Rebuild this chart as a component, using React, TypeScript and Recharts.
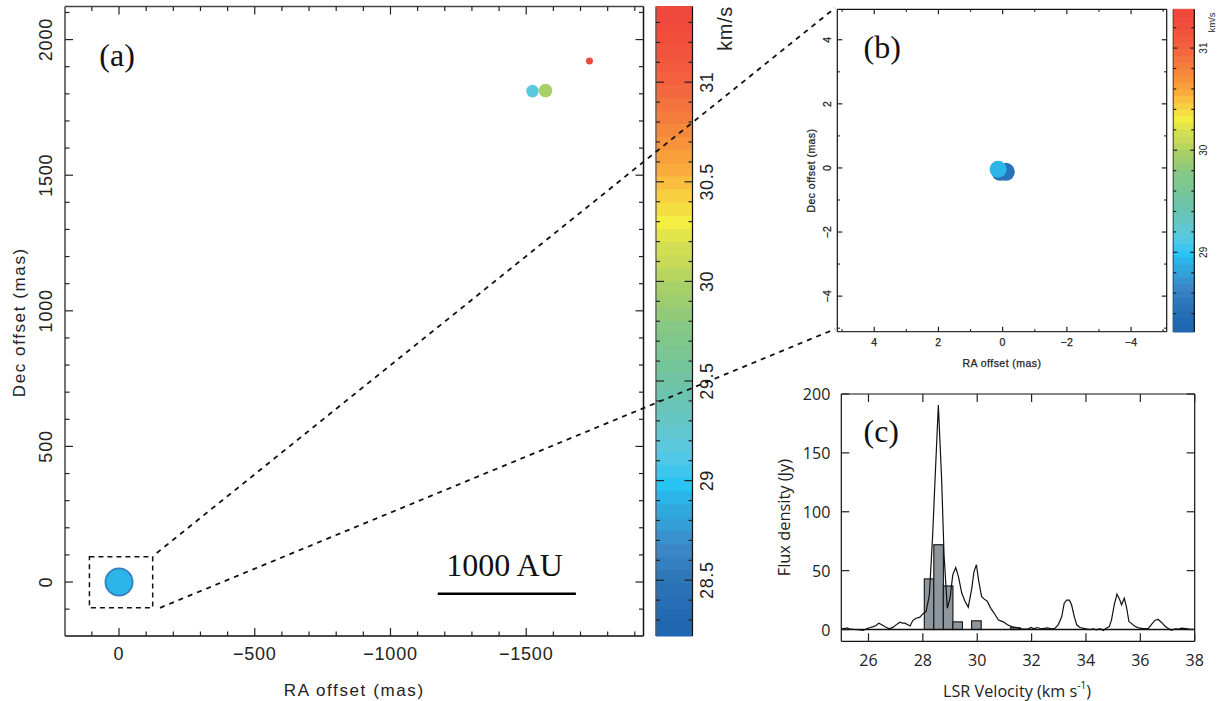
import React from 'react';
import {
  ScatterChart, Scatter, ComposedChart, Bar, Line, XAxis, YAxis, ZAxis, Cell, Label,
  ReferenceLine, ReferenceArea, ReferenceDot,
} from 'recharts';

// panel (a): maser spots, offsets in mas
const aRa = [0, 0, -1523, -1571, -1733];
const aDec = [0, 0, 1810, 1812, 1921];
const aVel = [28.55, 28.93, 29.2, 29.97, 31.3];
const aFlux = [72, 55, 13.6, 15.8, 4.2];
const aXTicks = [-1900, -1800, -1700, -1600, -1500, -1400, -1300, -1200, -1100, -1000, -900, -800, -700, -600, -500, -400, -300, -200, -100, 0, 100];
const aYTicks = [-100, 0, 100, 200, 300, 400, 500, 600, 700, 800, 900, 1000, 1100, 1200, 1300, 1400, 1500, 1600, 1700, 1800, 1900, 2000, 2100];
const aXMajor = [-1500, -1000, -500, 0];
const aYMajor = [0, 500, 1000, 1500, 2000];

// panel (b): zoom on the central spots
const bRa = [-0.1, 0.07, 0.14];
const bDec = [-0.12, -0.12, -0.04];
const bVel = [28.42, 28.42, 28.93];
const bFlux = [72, 72, 64];
const bXTicks = [-5, -4, -3, -2, -1, 0, 1, 2, 3, 4, 5];
const bYTicks = [-5, -4, -3, -2, -1, 0, 1, 2, 3, 4];
const bMajor = [-4, -2, 0, 2, 4];

// panel (c): spectrum and the channels with detected spots
const specV = [25.01, 25.14, 25.22, 25.32, 25.5, 25.69, 25.81, 25.93, 26.06, 26.18, 26.28, 26.38, 26.49, 26.61, 26.77, 26.91, 27.06, 27.16, 27.25, 27.34, 27.53, 27.63, 27.75, 27.89, 27.99, 28.12, 28.24, 28.36, 28.45, 28.57, 28.69, 28.78, 28.9, 29.0, 29.1, 29.21, 29.31, 29.43, 29.55, 29.67, 29.8, 29.88, 29.97, 30.05, 30.16, 30.25, 30.37, 30.5, 30.62, 30.78, 30.96, 31.11, 31.27, 31.45, 31.64, 31.76, 31.88, 31.98, 32.09, 32.19, 32.31, 32.43, 32.58, 32.74, 32.86, 32.98, 33.11, 33.2, 33.29, 33.39, 33.47, 33.57, 33.66, 33.78, 33.96, 34.15, 34.27, 34.39, 34.52, 34.64, 34.74, 34.86, 34.94, 35.04, 35.14, 35.23, 35.31, 35.41, 35.5, 35.58, 35.68, 35.8, 35.93, 36.11, 36.29, 36.42, 36.54, 36.66, 36.78, 36.91, 37.03, 37.15, 37.27, 37.4, 37.52, 37.68, 37.8, 38];
const specFlux = [0.6, 0.9, 1.4, 0.3, 0, -0.3, -0.8, 0.6, 1.7, 2.5, 3.4, 5.4, 4, 2.3, 0.6, 2, 4.8, 6.2, 5.4, 5.4, 3, 7.6, 9.6, 10.5, 13, 15.3, 29.4, 80, 128, 190.7, 128, 63, 18, 26.6, 46.4, 52.6, 45, 31, 24, 19, 35, 49, 55, 42, 28, 26, 24, 18, 14, 8, 6.5, 4, 2.5, 1.7, 0.6, 0.3, 0.6, 1.7, 0.6, 1.7, 1.1, 0.8, 1.4, 0.6, 1.1, 4, 11, 22.4, 25, 24.9, 21, 11, 4, 1.7, 0.8, 0, 0.6, -0.3, 0.8, -0.8, 1.1, 2.5, 8.2, 21, 30, 26, 21, 26.6, 18, 6.8, 5, 2.8, 1.4, 0.8, 0.8, 4.5, 7.9, 8.5, 6, 2.8, 0.8, -0.6, 0.6, 0.3, 1.1, 0.8, 0.3, 0];
const chanV = [28.23, 28.58, 28.93, 29.28, 29.97, 31.4];
const chanFlux = [43, 72, 37, 6.5, 7.4, 1.5];
const cXTicks = [26, 28, 30, 32, 34, 36, 38];
const cYTicks = [0, 50, 100, 150, 200];

// colour bar, top to bottom
const barTop = 31.38;
const barBottom = 28.22;
const barColors = [
  '#f0483c', '#f04a3c', '#f14e3c', '#f1533c', '#f2593d', '#f2603d', '#f3683e', '#f4723d',
  '#f57d3c', '#f6883b', '#f7933a', '#f99f3b', '#faab3d', '#fabf3f', '#f7cf40', '#f5de41',
  '#f4ee42', '#e3e54b', '#d2de53', '#c8da58', '#b8d560', '#a8d068', '#9ecd70', '#92ca7a',
  '#86c885', '#80c78c', '#7bc693', '#75c59b', '#70c4a5', '#6cc4ae', '#69c5b8', '#66c6c4',
  '#61c7d0', '#5bc8dc', '#50c8e6', '#3ec6ee', '#27c4f4', '#2cb5e8', '#30a8de', '#33a0d8',
  '#3892ce', '#3a86c6', '#3480c0', '#2e78ba', '#2a72b8', '#266eb5', '#226ab2', '#1f67b0',
];
const cbAMinor = [28.3, 28.4, 28.5, 28.6, 28.7, 28.8, 28.9, 29, 29.1, 29.2, 29.3, 29.4, 29.5, 29.6, 29.7, 29.8, 29.9, 30, 30.1, 30.2, 30.3, 30.4, 30.5, 30.6, 30.7, 30.8, 30.9, 31, 31.1, 31.2, 31.3];
const cbAMajor = [28.5, 29, 29.5, 30, 30.5, 31];
const cbBMinor = [28.4, 28.6, 28.8, 29, 29.2, 29.4, 29.6, 29.8, 30, 30.2, 30.4, 30.6, 30.8, 31, 31.2];
const cbBMajor = [29, 30, 31];
const cbRows = [{ v: 0 }, { v: 1 }];

const W = 1217;
const H = 701;
const SANS = '"Liberation Sans", sans-serif';
const SERIF = '"Liberation Serif", serif';
const OPEN = '"Open Sans", sans-serif';
const CHAN_PX = 9.6;

const step = (barTop - barBottom) / barColors.length;
const colorFor = (v: number) => barColors[Math.floor((barTop - v) / step)];
const spots = (ra: number[], dec: number[], vel: number[], flux: number[]) =>
  ra.map((r, i) => ({ ra: r, dec: dec[i], vel: vel[i], flux: flux[i] }));
// axes take 1px each (a 0 size axis is not drawn), so the margins give that back
const margin = (x0: number, y0: number, x1: number, y1: number) => ({ left: x0 - 1, top: y0 - 1, right: W - x1 - 1, bottom: H - y1 - 1 });
const fmt = (v: number) => String(v).replace('-', '\u2212');

const aData = spots(aRa, aDec, aVel, aFlux);
const bData = spots(bRa, bDec, bVel, bFlux);
const cData = [
  ...specV.map((v, i) => ({ v, flux: specFlux[i] })),
  ...chanV.map((v, i) => ({ v, chan: chanFlux[i] })),
].sort((p, q) => p.v - q.v);

type TickOpts = {
  side: 'left' | 'right' | 'top' | 'bottom';
  majors: number[];
  majorLen: number;
  minorLen: number;
  stroke?: string;
  width?: number;
  gap?: number; // distance from axis to label centre, no label when missing
  font?: string;
  size?: number;
  rotate?: boolean;
  spacing?: number;
  textStroke?: number;
};

// inward ticks, the axis hands us the position
const inTick = (o: TickOpts) => (p: any) => {
  const { x, y, payload } = p;
  const v = payload.value;
  const isMajor = o.majors.includes(v);
  const len = isMajor ? o.majorLen : o.minorLen;
  const dx = o.side === 'left' ? len : o.side === 'right' ? -len : 0;
  const dy = o.side === 'top' ? len : o.side === 'bottom' ? -len : 0;
  let text = null;
  if (o.gap !== undefined && isMajor) {
    const lx = o.side === 'left' ? x - o.gap : o.side === 'right' ? x + o.gap : x;
    const ly = o.side === 'bottom' ? y + o.gap : o.side === 'top' ? y - o.gap : y;
    const anchor = o.rotate || o.side === 'bottom' ? 'middle' : 'end';
    text = (
      <text
        x={lx} y={ly} textAnchor={anchor} dominantBaseline="central"
        transform={o.rotate ? `rotate(-90 ${lx} ${ly})` : undefined}
        fontFamily={o.font} fontSize={o.size} fill="#222" letterSpacing={o.spacing}
        stroke={o.textStroke ? '#222' : 'none'} strokeWidth={o.textStroke}
      >
        {fmt(v)}
      </text>
    );
  }
  return (
    <g>
      <line x1={x} y1={y} x2={x + dx} y2={y + dy} stroke={o.stroke || '#222'} strokeWidth={o.width || 1.2} />
      {text}
    </g>
  );
};

type TitleOpts = { off: number; size: number; font: string; spacing?: number; rotate?: boolean; shift?: number; textStroke?: number };

const axisTitle = (body: React.ReactNode, o: TitleOpts) => (p: any) => {
  const { x, y, width, height } = p.viewBox;
  const tx = o.rotate ? x - o.off : x + width / 2 + (o.shift || 0);
  const ty = o.rotate ? y + height / 2 + (o.shift || 0) : y + height + o.off;
  return (
    <text
      x={tx} y={ty} textAnchor="middle" dominantBaseline="central"
      transform={o.rotate ? `rotate(-90 ${tx} ${ty})` : undefined}
      fontFamily={o.font} fontSize={o.size} fill="#222" letterSpacing={o.spacing}
      stroke={o.textStroke ? '#222' : 'none'} strokeWidth={o.textStroke}
    >
      {body}
    </text>
  );
};

const Layer: React.FC<{ children: React.ReactNode }> = ({ children }) => (
  <div style={{ position: 'absolute', left: 0, top: 0, width: W, height: H }}>{children}</div>
);

const panelLetter = (value: string) => ({
  value,
  position: 'center' as const,
  fill: '#111',
  style: { fontFamily: SERIF, fontSize: 32 },
});

// channel bars keep the width of one velocity channel, the dense x data would squeeze them
const ChannelBar = (p: any) => {
  if (p.chan === undefined || p.chan === null) return null;
  return <rect x={p.x + p.width / 2 - CHAN_PX / 2} y={p.y} width={CHAN_PX} height={p.height} fill="#8e969e" stroke="#111" strokeWidth={1.1} />;
};

const ColorBar: React.FC<{
  box: [number, number, number, number];
  ticks: number[];
  majors: number[];
  majorLen: number;
  minorLen: number;
  gap: number;
  size: number;
  spacing?: number;
  titleGap: number;
  titleSize: number;
  titleShift: number;
}> = ({ box, ticks, majors, majorLen, minorLen, gap, size, spacing, titleGap, titleSize, titleShift }) => (
  <ComposedChart width={W} height={H} margin={{ left: box[0] - 1, top: box[1], right: W - box[2] - 1, bottom: H - box[3] }} data={cbRows}>
    <XAxis type="number" dataKey="v" domain={[0, 1]} allowDataOverflow hide />
    <YAxis
      yAxisId="l" type="number" domain={[barBottom, barTop]} allowDataOverflow width={1} ticks={ticks} interval={0}
      tickSize={0} tickMargin={0} tickLine={false} axisLine={{ stroke: '#555', strokeWidth: 1.2 }}
      tick={inTick({ side: 'left', majors, majorLen, minorLen })}
    />
    <YAxis
      yAxisId="r" orientation="right" type="number" domain={[barBottom, barTop]} allowDataOverflow width={1} ticks={ticks} interval={0}
      tickSize={0} tickMargin={0} tickLine={false} axisLine={{ stroke: '#111', strokeWidth: 1.2 }}
      tick={inTick({ side: 'right', majors, majorLen, minorLen, gap, font: SANS, size, rotate: true, spacing })}
    />
    {barColors.map((c, i) => (
      <ReferenceArea
        key={c + i} yAxisId="l" x1={0} x2={1} y1={barTop - (i + 1) * step} y2={barTop - i * step}
        fill={c} fillOpacity={1} stroke={c} strokeWidth={1} ifOverflow="visible"
      />
    ))}
    <ReferenceDot
      yAxisId="l" x={1} y={barTop - titleShift} r={0} stroke="none" fill="none" ifOverflow="visible"
      label={(p: any) => {
        const tx = p.viewBox.x + titleGap;
        const ty = p.viewBox.y;
        return (
          <text x={tx} y={ty} textAnchor="middle" dominantBaseline="central" transform={`rotate(-90 ${tx} ${ty})`}
            fontFamily={SANS} fontSize={titleSize} fill="#222" letterSpacing={spacing}>
            km/s
          </text>
        );
      }}
    />
  </ComposedChart>
);

const PanelA = () => (
  <ScatterChart width={W} height={H} margin={margin(65, 6.5, 643.5, 636)}>
    <XAxis
      type="number" dataKey="ra" domain={[-1932, 199]} allowDataOverflow reversed height={1} ticks={aXTicks} interval={0}
      tickSize={0} tickMargin={0} tickLine={false} axisLine={{ stroke: '#111', strokeWidth: 1.5 }}
      tick={inTick({ side: 'bottom', majors: aXMajor, majorLen: 8, minorLen: 4.5, gap: 18, font: SANS, size: 18, spacing: 0.8 })}
    >
      <Label content={axisTitle('RA offset (mas)', { off: 53, size: 17, font: SANS, spacing: 1.6 })} />
    </XAxis>
    <XAxis
      xAxisId="t" orientation="top" type="number" dataKey="ra" domain={[-1932, 199]} allowDataOverflow reversed height={1} ticks={aXTicks} interval={0}
      tickSize={0} tickMargin={0} tickLine={false} axisLine={{ stroke: '#444', strokeWidth: 1.5 }}
      tick={inTick({ side: 'top', majors: aXMajor, majorLen: 8, minorLen: 4.5 })}
    />
    <YAxis
      type="number" dataKey="dec" domain={[-199, 2122]} allowDataOverflow width={1} ticks={aYTicks} interval={0}
      tickSize={0} tickMargin={0} tickLine={false} axisLine={{ stroke: '#444', strokeWidth: 1.5 }}
      tick={inTick({ side: 'left', majors: aYMajor, majorLen: 8, minorLen: 4.5, gap: 18.5, font: SANS, size: 18, rotate: true, spacing: 0.8 })}
    >
      <Label content={axisTitle('Dec offset (mas)', { off: 45, size: 17, font: SANS, spacing: 1.6, rotate: true, shift: 1 })} />
    </YAxis>
    <YAxis
      yAxisId="r" orientation="right" type="number" dataKey="dec" domain={[-199, 2122]} allowDataOverflow width={1} ticks={aYTicks} interval={0}
      tickSize={0} tickMargin={0} tickLine={false} axisLine={{ stroke: '#111', strokeWidth: 1.5 }}
      tick={inTick({ side: 'right', majors: aYMajor, majorLen: 8, minorLen: 4.5 })}
    />
    <ZAxis type="number" dataKey="flux" domain={[0, 72]} range={[0, 660]} />
    <Scatter data={aData} isAnimationActive={false}>
      {aData.map((s, i) => <Cell key={i} fill={colorFor(s.vel)} />)}
    </Scatter>
    {/* zoom box and the lines out to panel (b), in panel (a) units */}
    <ReferenceArea x1={-124} x2={109} y1={-95} y2={93} fill="none" stroke="#111" strokeWidth={1.5} strokeDasharray="5 4" ifOverflow="visible" />
    <ReferenceLine segment={[{ x: -139, y: 107 }, { x: -2638, y: 2117 }]} stroke="#111" strokeWidth={1.8} strokeDasharray="5 5" ifOverflow="visible" />
    <ReferenceLine segment={[{ x: -151, y: -95 }, { x: -2638, y: 933 }]} stroke="#111" strokeWidth={1.8} strokeDasharray="5 5" ifOverflow="visible" />
    <ReferenceLine segment={[{ x: -1174, y: -43 }, { x: -1683, y: -43 }]} stroke="#000" strokeWidth={2.4} ifOverflow="visible" />
    <ReferenceDot x={-1420} y={63} r={0} stroke="none" fill="none" label={panelLetter('1000 AU')} />
    <ReferenceDot x={7} y={1943} r={0} stroke="none" fill="none" label={panelLetter('(a)')} />
  </ScatterChart>
);

const PanelB = () => (
  <ScatterChart width={W} height={H} margin={margin(837.3, 9.3, 1166.7, 331.7)}>
    <XAxis
      type="number" dataKey="ra" domain={[-5.11, 5.15]} allowDataOverflow reversed height={1} ticks={bXTicks} interval={0}
      tickSize={0} tickMargin={0} tickLine={false} axisLine={{ stroke: '#333', strokeWidth: 1.3 }}
      tick={inTick({ side: 'bottom', majors: bMajor, majorLen: 5, minorLen: 2.5, gap: 10, font: SANS, size: 10.5, spacing: 0.3, textStroke: 0.25 })}
    >
      <Label content={axisTitle('RA offset (mas)', { off: 30, size: 10.5, font: SANS, spacing: 0.45, textStroke: 0.25 })} />
    </XAxis>
    <XAxis
      xAxisId="t" orientation="top" type="number" dataKey="ra" domain={[-5.11, 5.15]} allowDataOverflow reversed height={1} ticks={bXTicks} interval={0}
      tickSize={0} tickMargin={0} tickLine={false} axisLine={{ stroke: '#111', strokeWidth: 1.2 }}
      tick={inTick({ side: 'top', majors: bMajor, majorLen: 5, minorLen: 2.5 })}
    />
    <YAxis
      type="number" dataKey="dec" domain={[-5.11, 4.95]} allowDataOverflow width={1} ticks={bYTicks} interval={0}
      tickSize={0} tickMargin={0} tickLine={false} axisLine={{ stroke: '#111', strokeWidth: 1.2 }}
      tick={inTick({ side: 'left', majors: bMajor, majorLen: 5, minorLen: 2.5, gap: 10, font: SANS, size: 10.5, rotate: true, spacing: 0.3, textStroke: 0.25 })}
    >
      <Label content={axisTitle('Dec offset (mas)', { off: 25, size: 10.5, font: SANS, spacing: 0.45, rotate: true, textStroke: 0.25 })} />
    </YAxis>
    <YAxis
      yAxisId="r" orientation="right" type="number" dataKey="dec" domain={[-5.11, 4.95]} allowDataOverflow width={1} ticks={bYTicks} interval={0}
      tickSize={0} tickMargin={0} tickLine={false} axisLine={{ stroke: '#111', strokeWidth: 1.2 }}
      tick={inTick({ side: 'right', majors: bMajor, majorLen: 5, minorLen: 2.5 })}
    />
    <ZAxis type="number" dataKey="flux" domain={[0, 72]} range={[0, 254]} />
    <Scatter data={bData} isAnimationActive={false}>
      {bData.map((s, i) => <Cell key={i} fill={colorFor(s.vel)} />)}
    </Scatter>
    <ReferenceDot x={3.75} y={3.79} r={0} stroke="none" fill="none" label={panelLetter('(b)')} />
  </ScatterChart>
);

const PanelC = () => (
  <ComposedChart width={W} height={H} margin={margin(841.3, 394, 1194.7, 641.3)} data={cData}>
    <XAxis
      type="number" dataKey="v" domain={[25, 38]} allowDataOverflow height={1} ticks={cXTicks} interval={0}
      tickSize={0} tickMargin={0} tickLine={false} axisLine={{ stroke: '#111', strokeWidth: 1.2 }}
      tick={inTick({ side: 'bottom', majors: cXTicks, majorLen: 8, minorLen: 8, gap: 18.5, font: OPEN, size: 16 })}
    >
      <Label
        content={axisTitle(
          <>LSR Velocity (km s<tspan dy={-6} fontSize={10}>-1</tspan><tspan dy={6}>)</tspan></>,
          { off: 49, size: 16.2, font: OPEN, shift: -1 },
        )}
      />
    </XAxis>
    <XAxis
      xAxisId="t" orientation="top" type="number" dataKey="v" domain={[25, 38]} allowDataOverflow height={1} ticks={cXTicks} interval={0}
      tickSize={0} tickMargin={0} tickLine={false} axisLine={{ stroke: '#111', strokeWidth: 1.2 }}
      tick={inTick({ side: 'top', majors: cXTicks, majorLen: 8, minorLen: 8 })}
    />
    <YAxis
      type="number" domain={[-10, 200]} allowDataOverflow width={1} ticks={cYTicks} interval={0}
      tickSize={0} tickMargin={0} tickLine={false} axisLine={{ stroke: '#111', strokeWidth: 1.2 }}
      tick={inTick({ side: 'left', majors: cYTicks, majorLen: 8, minorLen: 8, gap: 11, font: OPEN, size: 16 })}
    >
      <Label content={axisTitle('Flux density (Jy)', { off: 57, size: 16.4, font: OPEN, rotate: true, shift: 0 })} />
    </YAxis>
    <YAxis
      yAxisId="r" orientation="right" type="number" domain={[-10, 200]} allowDataOverflow width={1} ticks={cYTicks} interval={0}
      tickSize={0} tickMargin={0} tickLine={false} axisLine={{ stroke: '#111', strokeWidth: 1.2 }}
      tick={inTick({ side: 'right', majors: cYTicks, majorLen: 8, minorLen: 8 })}
    />
    <Bar dataKey="chan" barSize={9.6} shape={ChannelBar} isAnimationActive={false} />
    <Line dataKey="flux" type="linear" stroke="#111" strokeWidth={1.2} dot={false} connectNulls isAnimationActive={false} />
    <ReferenceLine y={0} stroke="#111" strokeWidth={1.3} />
    <ReferenceDot x={26.47} y={168.9} r={0} stroke="none" fill="none" label={panelLetter('(c)')} />
  </ComposedChart>
);

export default function App() {
  return (
    <div style={{ position: 'absolute', left: 0, top: 0, width: W, height: H, overflow: 'hidden', background: '#fff' }}>
      <Layer>
        <ColorBar box={[656, 6.5, 692.5, 636]} ticks={cbAMinor} majors={cbAMajor} majorLen={8} minorLen={4}
          gap={15} size={18} spacing={0.6} titleGap={33} titleSize={20} titleShift={0.11} />
      </Layer>
      <Layer>
        <ColorBar box={[1173.3, 9.3, 1194.3, 332]} ticks={cbBMinor} majors={cbBMajor} majorLen={4} minorLen={3}
          gap={9} size={10} titleGap={17} titleSize={9.5} titleShift={0.13} />
      </Layer>
      <Layer><PanelB /></Layer>
      <Layer><PanelC /></Layer>
      <Layer><PanelA /></Layer>
    </div>
  );
}
